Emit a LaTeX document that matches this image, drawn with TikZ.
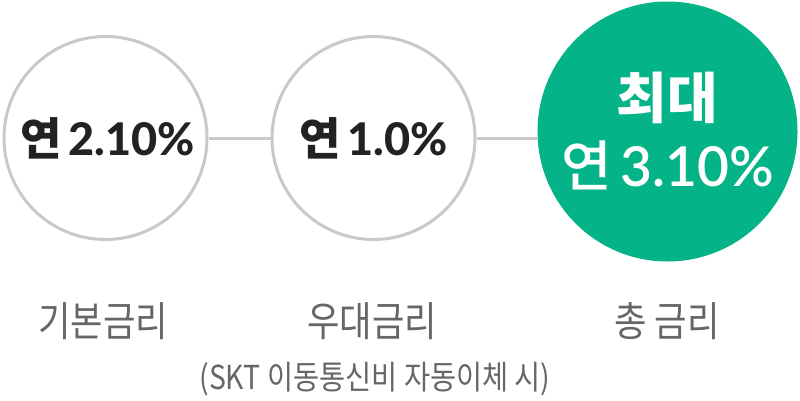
\documentclass[tikz,border=0pt]{standalone}
\usepackage{fontspec}
\setmainfont{Lato}
\newfontfamily\latoheavy{Lato Heavy}
\newfontfamily\latosemi{Lato Semibold}
\newfontfamily\kr{Noto Sans CJK KR}
\newfontfamily\krmed{Noto Sans CJK KR Medium}
\newfontfamily\krn[FakeStretch=0.86]{Noto Sans CJK KR}
\definecolor{ringgray}{HTML}{C9C9C9}
\definecolor{txtdark}{HTML}{222222}
\definecolor{lblgray}{HTML}{666666}
\definecolor{accent}{HTML}{05B388}
\begin{document}
\begin{tikzpicture}[x=1pt,y=-1pt,
  ring/.style={circle,draw=ringgray,line width=3pt,fill=white,inner sep=0pt,text=txtdark,font=\fontsize{45}{50}\selectfont\latoheavy},
  hot/.style={circle,fill=accent,inner sep=0pt,text=white,align=center,font=\fontsize{55}{68}\selectfont\latosemi},
  link/.style={draw=ringgray,line width=3pt},
  lbl/.style={text=lblgray,inner sep=0pt,font=\krn\fontsize{41}{44}\selectfont},
  sub/.style={text=lblgray,inner sep=0pt,font=\krn\fontsize{33}{36}\selectfont}]
\useasboundingbox (0,0) rectangle (800,400);
\node[ring,minimum size=203pt] (c1) at (105.5,138) {\hspace{4pt}{\kr\bfseries 연}\hspace{7pt}2.10\%};
\node[ring,minimum size=203pt] (c2) at (373.5,138) {{\kr\bfseries 연}\hspace{7pt}1.0\%};
\node[hot,minimum size=260pt] (c3) at (667.5,131.5) {{\kr\bfseries 최대}\\{\krmed 연}\hspace{9pt}3.10\%};
\draw[link] (c1.east) -- (c2.west);
\draw[link] (c2.east) -- (c3.west |- c2.east);
\node[lbl] (l1) at (103,321) {기본금리};
\node[lbl] (l2) at (372,321) {우대금리};
\node[lbl] (l3) at (667,321) {총 금리};
\node[sub] (s2) at (375,379) {(SKT 이동통신비 자동이체 시)};
\end{tikzpicture}
\end{document}
